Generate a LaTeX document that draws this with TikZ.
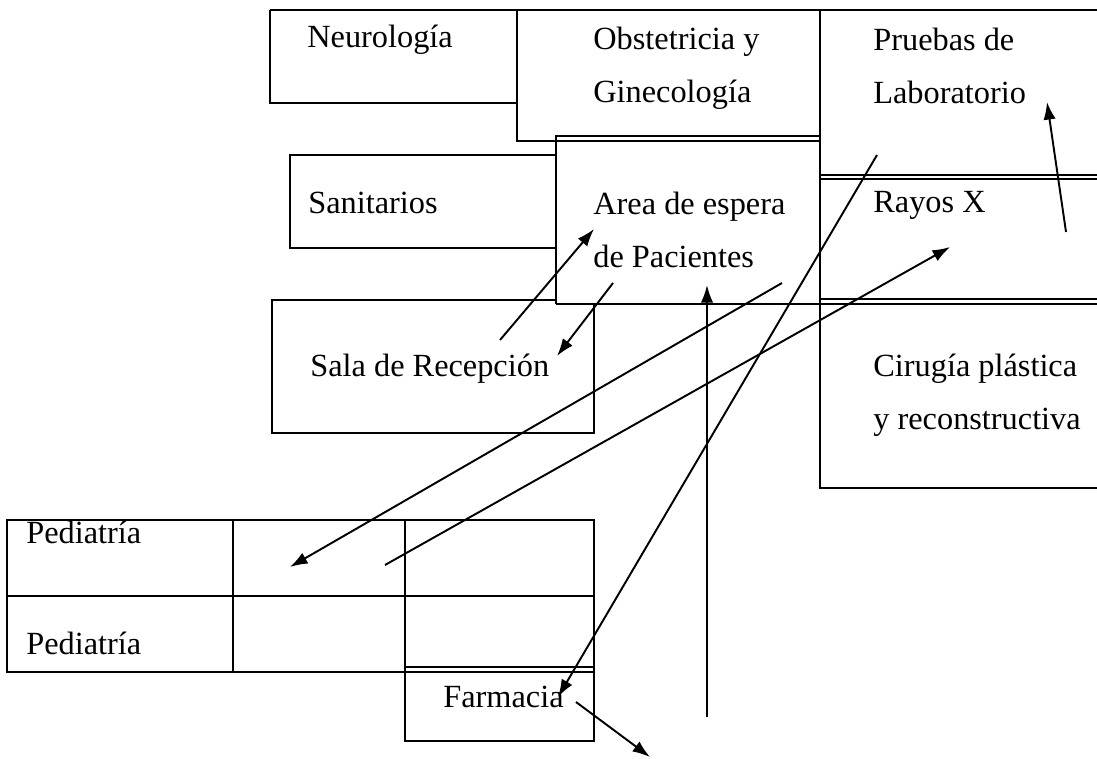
\documentclass[tikz,border=0pt]{standalone}
\usepackage{fontspec}
\setmainfont{Liberation Serif}
\usetikzlibrary{arrows.meta}
\begin{document}
\begin{tikzpicture}[x=0.02cm, y=-0.02cm]
\tikzset{ >={Latex[length=10pt,width=7pt]},
  wall/.style={line width=1.5pt},
  flow/.style={->, line width=1.1pt},
  room/.style={anchor=base west, inner sep=0pt, align=left, font=\fontsize{18.4}{30.6}\selectfont},
}
\useasboundingbox (0,0) rectangle (1097,759);

%\draw [lightgray, dashed](0,0) grid[step=50] (1097,759);

% upper block
\draw [wall] (270,10) -- (1097,10);
\draw [wall] (270,10) -- (270,103) -- (517,103);
\draw [wall] (517,10) -- (517,141) -- (556,141);
\draw [wall] (556,141) -- (819,141);
\draw [wall] (556,303) -- (556,136) -- (819,136);
\draw [wall] (556,155) -- (290,155) -- (290,248) -- (556,248);
\draw [wall] (820,10) -- (820,488) -- (1097,488);
\draw [wall] (820,175) -- (1097,175);
\draw [wall] (820,179) -- (1097,179);
\draw [wall] (820,299) -- (1097,299);
\draw [wall] (556,304) -- (1097,304);
\draw [wall] (556,304) -- (556,300) -- (272,300) -- (272,433) -- (594,433) -- (594,304);

% lower block
\draw [wall] (7,520) rectangle (594,672);
\draw [wall] (7,596) -- (594,596);
\draw [wall] (233,520) -- (233,672);
\draw [wall] (405,520) -- (405,741) -- (594,741) -- (594,672);
\draw [wall] (405,667) -- (594,667);

% rooms (two-line names sit on the baseline of their last line)
\node [room] (neuro) at (307,48)  {Neurología};
\node [room] (obst)  at (593,103) {Obstetricia y\\Ginecología};
\node [room] (lab)   at (873,104) {Pruebas de\\Laboratorio};
\node [room] (sanit) at (308,214) {Sanitarios};
\node [room] (esper) at (593,268) {Area de espera\\de Pacientes};
\node [room] (rayos) at (873,213) {Rayos X};
\node [room] (recep) at (310,377) {Sala de Recepción};
\node [room] (ciru)  at (873,430) {Cirugía plástica\\y reconstructiva};
\node [room] (ped1)  at (26,543)  {Pediatría};
\node [room] (ped2)  at (26,654)  {Pediatría};
\node [room] (farm)  at (443,707) {Farmacia};

% paths
\coordinate (r1) at (500,340);  \coordinate (e1) at (594,229);
\coordinate (e2) at (613,283);  \coordinate (r2) at (557,356);
\coordinate (e3) at (782,283);  \coordinate (p1) at (290,567);
\coordinate (p2) at (385,565);  \coordinate (x1) at (950,247);
\coordinate (b1) at (707,717);  \coordinate (e4) at (707,285);
\coordinate (l1) at (877,155);  \coordinate (f1) at (558,697);
\coordinate (f2) at (576,702);  \coordinate (b2) at (650,757);
\coordinate (x2) at (1066,232); \coordinate (l2) at (1047,102);

\draw [flow] (r1) -- (e1);
\draw [flow] (e2) -- (r2);
\draw [flow] (e3) -- (p1);
\draw [flow] (p2) -- (x1);
\draw [flow] (b1) -- (e4);
\draw [flow] (l1) -- (f1);
\draw [flow] (f2) -- (b2);
\draw [flow] (x2) -- (l2);

\end{tikzpicture}
\end{document}
